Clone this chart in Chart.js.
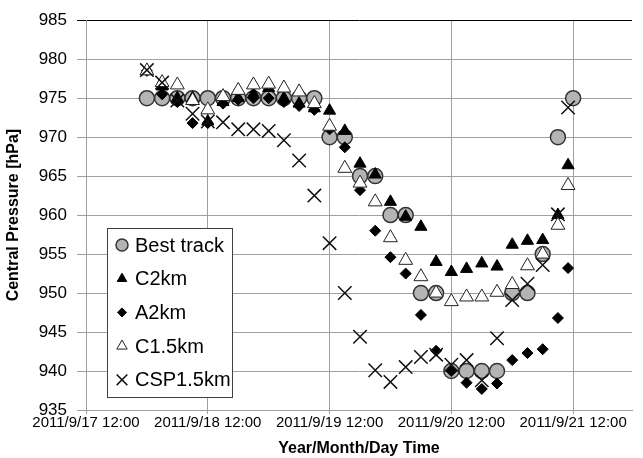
<!DOCTYPE html>
<html lang="en">
<head>
<meta charset="UTF-8">
<title>Central Pressure</title>
<script src="https://cdn.jsdelivr.net/npm/chart.js"></script>
<style>
  body { margin: 0; background: #fff; }
  canvas { display: block; }
</style>
</head>
<body>
<canvas id="chart" width="643" height="458"></canvas>
<script>
// time in hours after 2011/9/17 12:00
const bestHours = [12, 15, 18, 21, 24, 27, 30, 33, 36, 39, 42, 45, 48, 51, 54, 57, 60, 63, 66, 69, 72, 75, 78, 81, 84, 87, 90, 93, 96];
const bestTrack = [975, 975, 975, 975, 975, 975, 975, 975, 975, 975, 975, 975, 970, 970, 965, 965, 960, 960, 950, 950, 940, 940, 940, 940, 950, 950, 955, 970, 975];

const modelHours = [12, 15, 18, 21, 24, 27, 30, 33, 36, 39, 42, 45, 48, 51, 54, 57, 60, 63, 66, 69, 72, 75, 78, 81, 84, 87, 90, 93, 95];
const c2km = [978.5, 976.5, 975, 975, 972, 974.5, 975, 975.5, 976.3, 975, 974.3, 973.7, 973.4, 970.8, 966.6, 965.2, 961.7, 959.8, 958.5, 954, 952.7, 953.1, 953.8, 953.4, 956.2, 956.7, 956.8, 960, 966.4];
const a2km = [978.5, 975.5, 974.5, 971.8, 971.8, 974.3, 974.8, 975, 975, 974.5, 974, 973.5, 971, 968.7, 963.2, 958, 954.6, 952.5, 947.2, 942.6, 940, 938.5, 937.7, 938.4, 941.4, 942.3, 942.8, 946.8, 953.2];
const c15km = [978.5, 977, 976.7, 974.7, 973.5, 975.2, 976, 976.7, 976.8, 976.3, 975.8, 974.3, 971.4, 966, 964.1, 961.7, 957.1, 954.2, 952.1, 950, 948.9, 949.5, 949.5, 950.1, 951.1, 953.5, 955, 958.7, 963.8];
const csp15km = [978.6, 977, 974.7, 973, 972, 971.9, 971, 971, 970.8, 969.6, 967, 962.5, 956.4, 950, 944.4, 940.1, 938.6, 940.5, 941.8, 942.1, 940.8, 941.4, 938.8, 944.2, 949.1, 951.2, 953.6, 960.1, 973.8];

const dayLabels = ['2011/9/17 12:00', '2011/9/18 12:00', '2011/9/19 12:00', '2011/9/20 12:00', '2011/9/21 12:00'];

const FONT = '"Liberation Sans", Arial, sans-serif';

function pts(xs, ys) {
  return xs.map((x, i) => ({ x: x, y: ys[i] }));
}

// legend drawn as a box inside the plot
const boxLegend = {
  id: 'boxLegend',
  afterDraw(chart) {
    const ctx = chart.ctx;
    ctx.save();
    ctx.fillStyle = '#fff';
    ctx.strokeStyle = '#404040';
    ctx.lineWidth = 1;
    ctx.fillRect(107.5, 228.5, 125, 169);
    ctx.strokeRect(107.5, 228.5, 125, 169);
    chart.data.datasets.forEach((ds, i) => {
      const y = 245 + i * 33.7;
      ctx.fillStyle = ds.backgroundColor;
      ctx.strokeStyle = ds.borderColor;
      ctx.lineWidth = ds.borderWidth;
      Chart.helpers.drawPoint(ctx, {
        pointStyle: ds.pointStyle, radius: ds.legendRadius,
        borderWidth: ds.borderWidth, rotation: 0
      }, 122, y);
      ctx.fillStyle = '#000';
      ctx.font = '20px ' + FONT;
      ctx.textBaseline = 'middle';
      ctx.fillText(ds.label, 135, y + 1);
    });
    ctx.restore();
  }
};

const ctx = document.getElementById('chart').getContext('2d');
new Chart(ctx, {
  type: 'scatter',
  data: {
    datasets: [
      {
        label: 'Best track', data: pts(bestHours, bestTrack), order: 5,
        pointStyle: 'circle', pointRadius: 7.5, legendRadius: 6,
        backgroundColor: '#b4b4b4', borderColor: '#333', borderWidth: 1.5
      },
      {
        label: 'C2km', data: pts(modelHours, c2km), order: 4,
        pointStyle: 'triangle', pointRadius: 7, legendRadius: 5.5,
        backgroundColor: '#000', borderColor: '#000', borderWidth: 1
      },
      {
        label: 'A2km', data: pts(modelHours, a2km), order: 3,
        pointStyle: 'rectRot', pointRadius: 5.5, legendRadius: 4.5,
        backgroundColor: '#000', borderColor: '#000', borderWidth: 1
      },
      {
        label: 'C1.5km', data: pts(modelHours, c15km), order: 2,
        pointStyle: 'triangle', pointRadius: 8, legendRadius: 6,
        backgroundColor: '#fff', borderColor: '#222', borderWidth: 1
      },
      {
        label: 'CSP1.5km', data: pts(modelHours, csp15km), order: 1,
        pointStyle: 'crossRot', pointRadius: 9.5, legendRadius: 7.5,
        backgroundColor: '#000', borderColor: '#111', borderWidth: 1.5
      }
    ]
  },
  options: {
    responsive: false,
    animation: false,
    layout: { padding: { top: 20, right: 0, left: 0, bottom: 0 } },
    plugins: {
      legend: { display: false },
      tooltip: { enabled: false }
    },
    scales: {
      x: {
        type: 'linear',
        min: 0,
        max: 107.6,
        afterBuildTicks: (scale) => {
          scale.ticks = scale.ticks.filter(t => t.value % 24 === 0);
        },
        afterFit: (scale) => { scale.height = 48; },
        ticks: {
          stepSize: 24,
          includeBounds: false,
          color: '#000',
          font: { family: FONT, size: 15 },
          padding: 0,
          maxRotation: 0,
          autoSkip: false,
          callback: (v) => dayLabels[v / 24]
        },
        grid: { color: '#a0a0a0', tickLength: 4 },
        border: { color: '#a0a0a0' },
        title: {
          display: true,
          text: 'Year/Month/Day Time',
          color: '#000',
          font: { family: FONT, size: 16, weight: 'bold' },
          padding: { top: 0, bottom: 0 }
        }
      },
      y: {
        min: 935,
        max: 985,
        afterFit: (scale) => { scale.width = 86; },
        ticks: {
          stepSize: 5,
          color: '#000',
          font: { family: FONT, size: 17 },
          padding: 10
        },
        grid: {
          color: (c) => (c.tick && c.tick.value === 985 ? '#000' : '#a0a0a0'),
          tickLength: 9
        },
        border: { color: '#a0a0a0' },
        title: {
          display: true,
          text: 'Central Pressure [hPa]',
          color: '#000',
          font: { family: FONT, size: 16, weight: 'bold' },
          padding: { top: 4, bottom: 0 }
        }
      }
    }
  },
  plugins: [boxLegend]
});
</script>
</body>
</html>
